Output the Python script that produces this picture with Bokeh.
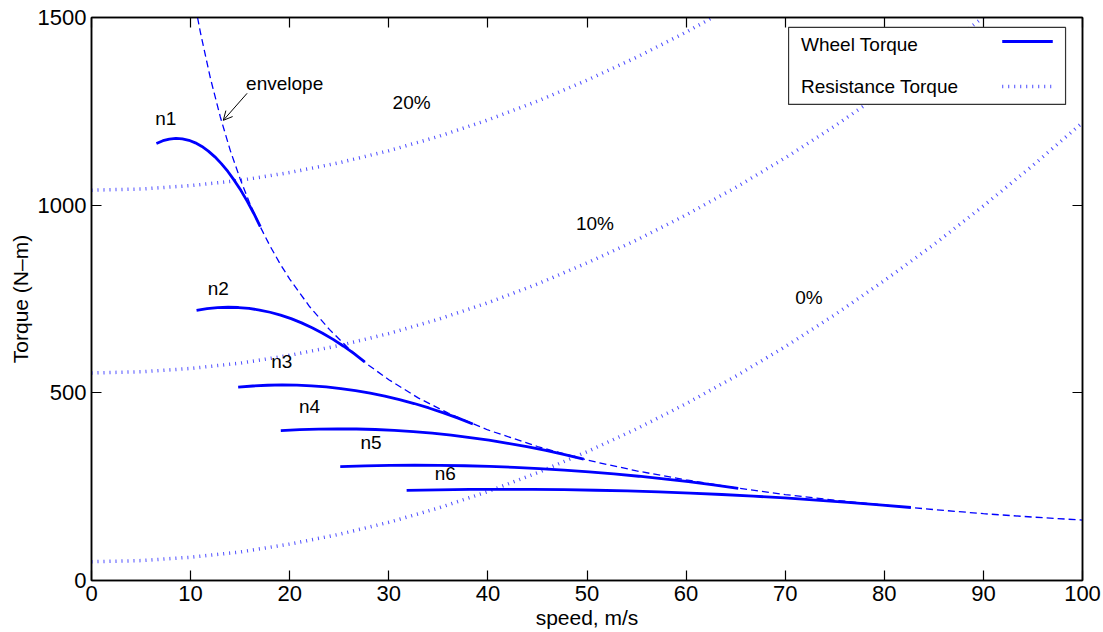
from bokeh.plotting import figure
from bokeh.models import (Range1d, LinearAxis, SingleIntervalTicker, Arrow, OpenHead,
                          BoxAnnotation, Label, ColumnDataSource, CustomLabelingPolicy)
from bokeh.core.properties import value
from bokeh.embed import file_html
from bokeh.resources import INLINE

FONT = "Liberation Sans"
BLUE = "#0000ff"

# ---------------- data ----------------
# Resistance torque curves (speed m/s -> torque N-m) for road grades
res_speed = [0, 5, 10, 15, 20, 25, 30, 35, 40, 45, 50, 55, 60, 65, 70, 75, 80, 85, 90, 95, 100]
res_0 = [50, 53, 62, 76, 97, 123, 155, 193, 237, 287, 343, 404, 471, 544, 623, 708, 799, 895, 998, 1106, 1220]
res_10 = [553, 556, 565, 579, 600, 626, 658, 696, 740, 790, 846, 907, 974, 1047, 1126, 1211, 1302, 1398, 1501, 1609, 1723]
res_20 = [1040, 1043, 1052, 1066, 1087, 1113, 1145, 1183, 1227, 1277, 1333, 1394, 1461, 1534, 1613, 1698, 1789, 1885, 1988, 2096, 2210]
grade_labels = ["0%", "10%", "20%"]
grade_label_x = [72.4, 50.8, 32.3]
grade_label_y = [754, 951, 1274]

# Envelope (maximum tractive torque)
env_speed = [10.7, 11, 12, 13, 14, 15, 16, 17, 18, 19, 20, 22, 24, 26, 28, 30, 33, 36, 40, 45,
             50, 55, 60, 65, 70, 75, 80, 85, 90, 95, 100]
env_torque = [1500, 1459, 1338, 1235, 1146, 1070, 1003, 944, 892, 845, 803, 730, 669, 617, 573, 535,
              486, 446, 401, 357, 321, 292, 268, 247, 229, 214, 201, 189, 178, 169, 161]

# Wheel torque per gear
n1_speed = [6.55, 7.21, 7.86, 8.52, 9.17, 9.83, 10.48, 11.14, 11.79, 12.45, 13.10, 13.76, 14.41, 15.07, 15.72, 16.38, 17.03]
n1_torque = [1164.5, 1171.8, 1176.2, 1178, 1176.8, 1172.9, 1166.1, 1156.4, 1144.1, 1128.8, 1110.7, 1089.8, 1066.0, 1039.5, 1010.0, 977.9, 942.8]
n2_speed = [10.6, 11.66, 12.72, 13.78, 14.84, 15.9, 16.96, 18.02, 19.08, 20.14, 21.2, 22.26, 23.32, 24.38, 25.44, 26.5, 27.56]
n2_torque = [719.6, 724.1, 726.9, 728, 727.3, 724.9, 720.6, 714.7, 707.0, 697.6, 686.4, 673.5, 658.8, 642.4, 624.2, 604.3, 582.6]
n3_speed = [14.8, 16.28, 17.76, 19.24, 20.72, 22.2, 23.68, 25.16, 26.64, 28.12, 29.6, 31.08, 32.56, 34.04, 35.52, 37.0, 38.48]
n3_torque = [515.0, 518.2, 520.2, 521, 520.5, 518.8, 515.7, 511.5, 506.0, 499.2, 491.3, 482.0, 471.5, 459.7, 446.7, 432.5, 417.0]
n4_speed = [19.1, 21.01, 22.92, 24.83, 26.74, 28.65, 30.56, 32.47, 34.38, 36.29, 38.2, 40.11, 42.02, 43.93, 45.84, 47.75, 49.66]
n4_torque = [399.4, 401.9, 403.4, 404, 403.6, 402.3, 399.9, 396.6, 392.4, 387.1, 380.9, 373.7, 365.6, 356.5, 346.4, 335.4, 323.3]
n5_speed = [25.1, 27.61, 30.12, 32.63, 35.14, 37.65, 40.16, 42.67, 45.18, 47.69, 50.2, 52.71, 55.22, 57.73, 60.24, 62.75, 65.26]
n5_torque = [303.5, 305.4, 306.5, 307, 306.7, 305.7, 303.9, 301.4, 298.2, 294.2, 289.5, 284.0, 277.8, 270.9, 263.2, 254.8, 245.7]
n6_speed = [31.8, 34.98, 38.16, 41.34, 44.52, 47.7, 50.88, 54.06, 57.24, 60.42, 63.6, 66.78, 69.96, 73.14, 76.32, 79.5, 82.68]
n6_torque = [240.2, 241.7, 242.6, 243, 242.8, 242.0, 240.5, 238.6, 236.0, 232.8, 229.1, 224.8, 219.9, 214.4, 208.4, 201.7, 194.5]
gear_labels = ["n1", "n2", "n3", "n4", "n5", "n6"]
gear_label_x = [7.5, 12.8, 19.2, 22.0, 28.2, 35.7]
gear_label_y = [1231, 778, 584, 464, 368, 285]

x_label = "speed, m/s"
y_label = "Torque (N\u2013m)"

# ---------------- figure ----------------
p = figure(width=1103, height=632, output_backend="svg", toolbar_location=None,
           x_range=Range1d(0, 100), y_range=Range1d(0, 1500),
           min_border_left=91, min_border_right=21, min_border_top=17, min_border_bottom=52,
           background_fill_color="white", border_fill_color="white")
p.grid.visible = False
p.outline_line_color = "black"
p.outline_line_width = 1.5

p.xaxis.ticker = SingleIntervalTicker(interval=10)
p.yaxis.ticker = SingleIntervalTicker(interval=500)

for ax in [p.xaxis[0], p.yaxis[0]]:
    ax.major_tick_in = 10
    ax.major_tick_out = 0
    ax.minor_tick_in = 0
    ax.minor_tick_out = 0
    ax.axis_line_color = "black"
    ax.axis_line_width = 1.5
    ax.major_tick_line_color = "black"
    ax.major_tick_line_width = 1.2
    ax.major_label_text_font = FONT
    ax.major_label_text_font_size = "22px"
    ax.major_label_text_color = "black"
    ax.axis_label_text_font = FONT
    ax.axis_label_text_font_size = "21px"
    ax.axis_label_text_font_style = "normal"
    ax.axis_label_text_color = "black"

p.xaxis.axis_label = x_label
p.yaxis.axis_label = y_label
p.xaxis.major_label_standoff = 5
p.xaxis.axis_label_standoff = 2
p.yaxis.major_label_standoff = 5
p.yaxis.axis_label_standoff = 3

# mirrored ticks on top and right (no labels)
no_labels = CustomLabelingPolicy(code="for (const i of indices) { if (false) yield i }")
top_ax = LinearAxis(ticker=SingleIntervalTicker(interval=10), major_label_policy=no_labels)
right_ax = LinearAxis(ticker=SingleIntervalTicker(interval=500), major_label_policy=no_labels)
for ax in [top_ax, right_ax]:
    ax.major_tick_in = 10
    ax.major_tick_out = 0
    ax.minor_tick_in = 0
    ax.minor_tick_out = 0
    ax.major_label_text_font_size = "1px"
    ax.major_label_standoff = 0
    ax.axis_line_color = "black"
    ax.axis_line_width = 1.5
    ax.major_tick_line_color = "black"
    ax.major_tick_line_width = 1.2
p.add_layout(top_ax, "above")
p.add_layout(right_ax, "right")

# resistance curves (dotted)
for ys in [res_0, res_10, res_20]:
    p.line(res_speed, ys, line_color=BLUE, line_width=3.5, line_dash="1 5", line_alpha=0.7)

# envelope
p.line(env_speed, env_torque, line_color=BLUE, line_width=1.3, line_dash="7 4")

# wheel torque
for xs, ys in [(n1_speed, n1_torque), (n2_speed, n2_torque), (n3_speed, n3_torque),
               (n4_speed, n4_torque), (n5_speed, n5_torque), (n6_speed, n6_torque)]:
    p.line(xs, ys, line_color=BLUE, line_width=2.8)

# labels
lab_src = ColumnDataSource(dict(x=gear_label_x + grade_label_x,
                                y=gear_label_y + grade_label_y,
                                t=gear_labels + grade_labels))
p.text(x="x", y="y", text="t", source=lab_src, text_font=value(FONT), text_font_size="19px",
       text_align="center", text_baseline="middle", text_color="black")

# envelope annotation
p.add_layout(Label(x=15.6, y=1324, text="envelope", text_font=FONT, text_font_size="19px",
                   text_align="left", text_baseline="middle", text_color="black"))
p.add_layout(Arrow(end=OpenHead(size=9, line_width=1, line_color="black"),
                   x_start=15.7, y_start=1298, x_end=13.3, y_end=1226,
                   line_color="black", line_width=1))

# legend (MATLAB style: text left, sample right)
p.add_layout(BoxAnnotation(left=70.34, right=98.29, top=1473.5, bottom=1268.3,
                           fill_color="white", fill_alpha=1.0,
                           line_color="#333333", line_width=1.2, line_alpha=1.0))
p.add_layout(Label(x=71.6, y=1428, text="Wheel Torque", text_font=FONT, text_font_size="19px",
                   text_align="left", text_baseline="middle", text_color="black"))
p.add_layout(Label(x=71.6, y=1316, text="Resistance Torque", text_font=FONT, text_font_size="19px",
                   text_align="left", text_baseline="middle", text_color="black"))
p.add_layout(Arrow(end=None, x_start=91.9, y_start=1436, x_end=97.0, y_end=1436,
                   line_color=BLUE, line_width=2.8))
p.add_layout(Arrow(end=None, x_start=91.9, y_start=1316, x_end=97.0, y_end=1316,
                   line_color=BLUE, line_width=3.5, line_dash="1 5", line_alpha=0.7))

open("out.html", "w").write(file_html(p, INLINE))
